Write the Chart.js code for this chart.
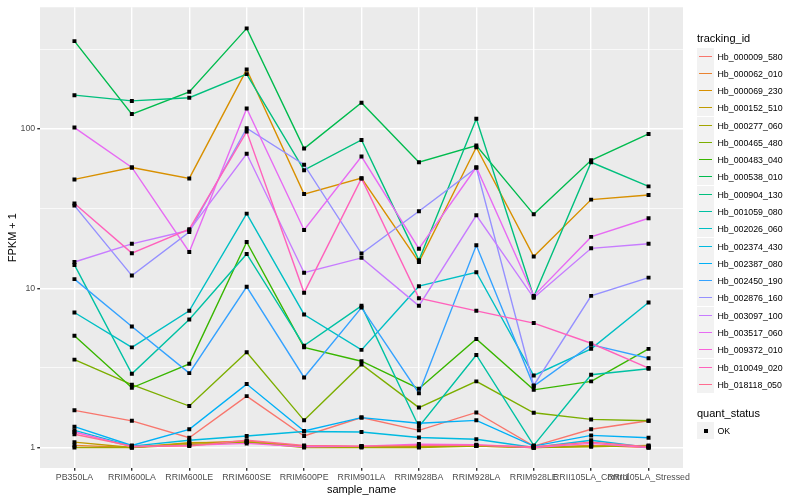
<!DOCTYPE html>
<html><head><meta charset="utf-8">
<script src="https://cdn.jsdelivr.net/npm/chart.js@4"></script>
<style>
body{margin:0;background:#fff;}
#wrap{position:relative;width:800px;height:500px;overflow:hidden;}
#legend{position:absolute;left:0;top:0;width:800px;height:500px;pointer-events:none;font-family:"Liberation Sans",Arial,Helvetica,sans-serif;}
.lt{position:absolute;left:697px;font-size:11px;color:#000;line-height:13px;white-space:nowrap;}
.key{position:absolute;left:697px;width:17px;height:17px;background:#F2F2F2;}
.kl{position:absolute;left:2px;right:2px;top:8px;height:1px;}
.kp{position:absolute;left:6.5px;top:6.5px;width:4px;height:4px;background:#000;}
.lab{position:absolute;left:717.5px;font-size:8.8px;line-height:10px;color:#000;white-space:nowrap;}
</style></head>
<body>
<div id="wrap"><canvas id="c" width="800" height="500"></canvas><div id="legend"></div></div>
<script>
// ---- data ----
const categories = ["PB350LA","RRIM600LA","RRIM600LE","RRIM600SE","RRIM600PE","RRIM901LA","RRIM928BA","RRIM928LA","RRIM928LE","RRII105LA_Control","RRII105LA_Stressed"];
const trackingIds = ["Hb_000009_580","Hb_000062_010","Hb_000069_230","Hb_000152_510","Hb_000277_060","Hb_000465_480","Hb_000483_040","Hb_000538_010","Hb_000904_130","Hb_001059_080","Hb_002026_060","Hb_002374_430","Hb_002387_080","Hb_002450_190","Hb_002876_160","Hb_003097_100","Hb_003517_060","Hb_009372_010","Hb_010049_020","Hb_018118_050"];
const Hb_000009_580 = [1.71, 1.47, 1.15, 2.10, 1.18, 1.54, 1.28, 1.66, 1.02, 1.30, 1.47];
const Hb_000062_010 = [1.03, 1.00, 1.06, 1.10, 1.02, 1.01, 1.02, 1.02, 1.00, 1.03, 1.00];
const Hb_000069_230 = [48.2, 57.3, 48.9, 236, 39.0, 49.1, 14.6, 76.7, 15.8, 36.0, 38.5];
const Hb_000152_510 = [1.08, 1.00, 1.07, 1.08, 1.02, 1.01, 1.01, 1.03, 1.00, 1.02, 1.02];
const Hb_000277_060 = [1.00, 1.00, 1.04, 1.08, 1.00, 1.00, 1.00, 1.02, 1.00, 1.01, 1.03];
const Hb_000465_480 = [3.56, 2.48, 1.82, 3.96, 1.48, 3.32, 1.78, 2.60, 1.65, 1.50, 1.47];
const Hb_000483_040 = [5.03, 2.37, 3.35, 19.5, 4.25, 3.48, 2.34, 4.80, 2.30, 2.60, 4.16];
const Hb_000538_010 = [356, 124, 171, 428, 75.3, 146, 61.8, 78.7, 29.1, 63.6, 93.1];
const Hb_000904_130 = [163, 150, 157, 221, 55.1, 85.3, 15.0, 116, 8.83, 61.8, 43.6];
const Hb_001059_080 = [14.0, 2.90, 6.36, 16.4, 4.36, 7.75, 1.35, 3.81, 1.03, 2.86, 3.12];
const Hb_002026_060 = [7.04, 4.25, 7.21, 29.4, 6.84, 4.10, 10.3, 12.6, 2.83, 4.16, 8.13];
const Hb_002374_430 = [1.28, 1.02, 1.11, 1.18, 1.26, 1.25, 1.155, 1.127, 1.00, 1.11, 1.00];
const Hb_002387_080 = [1.35, 1.03, 1.30, 2.50, 1.27, 1.54, 1.42, 1.48, 1.02, 1.19, 1.15];
const Hb_002450_190 = [11.4, 5.75, 2.93, 10.2, 2.75, 7.56, 2.19, 18.6, 2.43, 4.42, 3.63];
const Hb_002876_160 = [33.0, 12.0, 22.5, 101, 59.6, 16.5, 30.4, 57.0, 2.45, 8.95, 11.65];
const Hb_003097_100 = [14.6, 19.0, 23.1, 69.8, 12.5, 15.5, 7.75, 28.7, 8.7, 17.8, 19.0];
const Hb_003517_060 = [102, 57.3, 16.9, 134.5, 23.2, 67.1, 17.7, 57.5, 8.95, 21.0, 27.5];
const Hb_009372_010 = [1.25, 1.01, 1.03, 1.06, 1.01, 1.02, 1.05, 1.04, 1.00, 1.06, 1.00];
const Hb_010049_020 = [34.0, 16.6, 23.5, 96.2, 9.35, 48.9, 8.66, 7.21, 6.04, 4.51, 3.15];
const Hb_018118_050 = [1.21, 1.02, 1.02, 1.11, 1.03, 1.02, 1.03, 1.03, 1.01, 1.08, 1.01];
const seriesValues = [Hb_000009_580,Hb_000062_010,Hb_000069_230,Hb_000152_510,Hb_000277_060,Hb_000465_480,Hb_000483_040,Hb_000538_010,Hb_000904_130,Hb_001059_080,Hb_002026_060,Hb_002374_430,Hb_002387_080,Hb_002450_190,Hb_002876_160,Hb_003097_100,Hb_003517_060,Hb_009372_010,Hb_010049_020,Hb_018118_050];
const yMajorTicks = [1, 10, 100];
const yMinorTicks = [3.1623, 31.623, 316.23];
const quantStatus = ["OK"];

// ---- styles ----
const seriesColors = ["#F8766D","#EA8331","#D89000","#C09B00","#A3A500","#7CAE00","#39B600","#00BB4E","#00BF7D","#00C1A3","#00BFC4","#00BAE0","#00B0F6","#35A2FF","#9590FF","#C77CFF","#E76BF3","#FA62DB","#FF62BC","#FF6C90"];
const FONT = '"Liberation Sans", Arial, Helvetica, sans-serif';
Chart.defaults.font.family = FONT;

const datasets = seriesValues.map((vals, i) => ({
  type: 'line',
  label: trackingIds[i],
  data: vals.map((v, j) => ({x: j, y: v})),
  borderColor: seriesColors[i],
  borderWidth: 1.4,
  pointRadius: 0,
  fill: false,
  tension: 0,
  order: 100 - i
}));
const pts = [];
seriesValues.forEach(vals => vals.forEach((v, j) => pts.push({x: j, y: v})));
datasets.push({
  type: 'scatter', label: 'points', data: pts, showLine: false,
  pointStyle: 'rect', pointRadius: 2.8, pointBackgroundColor: '#000', pointBorderWidth: 0,
  order: 0
});

const panelBg = {
  id: 'panelBg',
  beforeDraw(chart) {
    const {ctx, chartArea: a} = chart;
    ctx.save();
    ctx.fillStyle = '#EBEBEB';
    ctx.fillRect(a.left, a.top, a.right - a.left, a.bottom - a.top);
    ctx.restore();
  }
};
const isMajor = v => yMajorTicks.some(m => Math.abs(m - v) < 1e-6);

new Chart(document.getElementById('c'), {
  data: { datasets },
  plugins: [panelBg],
  options: {
    responsive: false,
    animation: false,
    layout: { padding: { left: 0, right: 117, top: 5, bottom: 0 } },
    plugins: { legend: { display: false }, tooltip: { enabled: false } },
    scales: {
      x: {
        type: 'linear', min: -0.6, max: 10.6, bounds: 'data',
        afterBuildTicks(scale) { scale.ticks = categories.map((_, i) => ({value: i})); },
        afterFit(scale) { scale.height = 32; },
        ticks: { autoSkip: false, maxRotation: 0, minRotation: 0, padding: 2,
          callback: v => categories[v], font: { size: 8.8 }, color: '#4D4D4D' },
        grid: { color: '#FFFFFF', lineWidth: 1.4, drawTicks: true, tickLength: 2.75, tickColor: '#333333', tickWidth: 1.4 },
        border: { display: false },
        title: { display: true, text: 'sample_name', font: { size: 11 }, color: '#000', padding: { top: 0, bottom: 3 } }
      },
      y: {
        type: 'logarithmic', min: 0.743, max: 580.8, bounds: 'data',
        afterBuildTicks(scale) { scale.ticks = yMajorTicks.concat(yMinorTicks).sort((a, b) => a - b).map(v => ({value: v})); },
        afterFit(scale) { scale.width = 40; },
        ticks: { autoSkip: false, padding: 2, font: { size: 8.8 }, color: '#4D4D4D',
          callback: v => isMajor(v) ? String(Math.round(v)) : '' },
        grid: { color: '#FFFFFF', drawTicks: true, tickLength: 2.75, tickWidth: 1.4,
          lineWidth: c => isMajor(c.tick.value) ? 1.4 : 0.7,
          tickColor: c => isMajor(c.tick.value) ? '#333333' : 'rgba(0,0,0,0)' },
        border: { display: false },
        title: { display: true, text: 'FPKM + 1', font: { size: 11 }, color: '#000', padding: { top: 6, bottom: 0 } }
      }
    }
  }
});

// ---- legend (HTML text) ----
const lg = document.getElementById('legend');
let html = '<div class="lt" style="top:31.5px">tracking_id</div>';
trackingIds.forEach((id, k) => {
  const top = Math.round(56 + k * 17.28 - 8.5);
  html += `<div class="key" style="top:${top}px"><div class="kl" style="background:${seriesColors[k]}"></div></div>`;
  html += `<div class="lab" style="top:${top + 3.5}px">${id}</div>`;
});
html += '<div class="lt" style="top:406.5px">quant_status</div>';
quantStatus.forEach((q, k) => {
  const top = Math.round(430 + k * 17.28 - 8.5);
  html += `<div class="key" style="top:${top}px"><div class="kp"></div></div>`;
  html += `<div class="lab" style="top:${top + 3.5}px">${q}</div>`;
});
lg.innerHTML = html;
</script>
</body></html>
